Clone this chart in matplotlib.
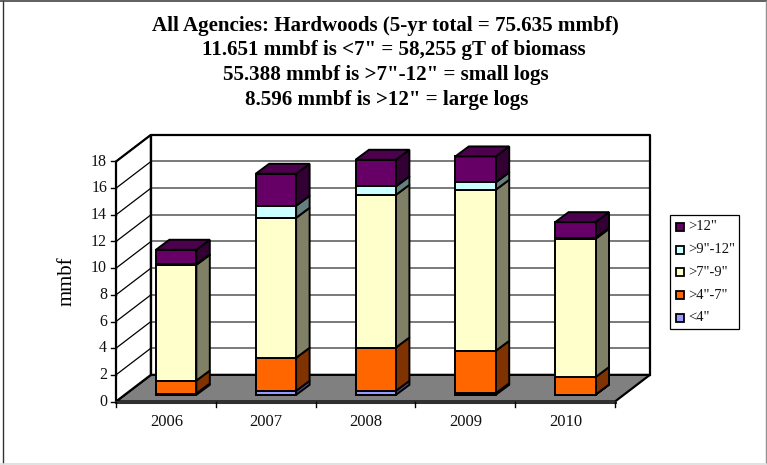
import numpy as np
import matplotlib
matplotlib.use('Agg')
import matplotlib.pyplot as plt
from matplotlib.lines import Line2D
from matplotlib.patches import Polygon, Rectangle

plt.rcParams['font.family'] = ['Liberation Serif', 'DejaVu Serif']

years = ['2006', '2007', '2008', '2009', '2010']
labels = ['<4"', '>4"-7"', '>7"-9"', '>9"-12"', '>12"']
colors = ['#9999ff', '#ff6600', '#ffffcc', '#ccffff', '#660066']
side_colors = ['#4d4d80', '#803300', '#808066', '#668080', '#330033']
top_colors = ['#4d4d80', '#803300', '#808066', '#668080', '#4d004d']

under_4 = [0.10, 0.30, 0.30, 0.12, 0.02]
from_4_to_7 = [0.97, 2.48, 3.25, 3.18, 1.31]
from_7_to_9 = [8.68, 10.50, 11.45, 12.08, 10.37]
from_9_to_12 = [0.05, 0.90, 0.63, 0.55, 0.08]
over_12 = [1.08, 2.40, 2.00, 1.95, 1.17]
series = [under_4, from_4_to_7, from_7_to_9, from_9_to_12, over_12]

title_lines = ['All Agencies: Hardwoods (5-yr total = 75.635 mmbf)',
               '11.651 mmbf is <7" = 58,255 gT of biomass',
               '55.388 mmbf is >7"-12" = small logs',
               '8.596 mmbf is >12" = large logs']
title_x = [385.5, 394, 386, 386.5]
title_y = [26, 50, 75, 99.5]

W, H = 767, 465
fig = plt.figure(figsize=(W / 100, H / 100), dpi=100)


def frame_line(x, y, color, lw):
    fig.add_artist(Line2D([p / W for p in x], [1 - p / H for p in y], color=color, linewidth=lw))


# outer frame, dark on top and left, pale on the other sides
frame_line([3, 3], [1, 463], '#333333', 1.0)
frame_line([0, 767], [1, 1], '#444444', 1.2)
frame_line([766, 766], [1, 463], '#909090', 1.0)
frame_line([0, 767], [463.5, 463.5], '#dddddd', 1.2)

ax = fig.add_axes([116 / W, (H - 401.5) / H, 499 / W, 240 / H])
ax.set_xlim(-0.5, 4.5)
ax.set_ylim(0, 18)
ax.axis('off')

# oblique offsets for the fake 3d, in data units
wall_dx, wall_dy = 0.35, 2.0
bar_dy = 0.5
depth_dx, depth_dy = 0.135, 0.75
bar_w = 0.405


def poly(pts, fc, ec='black', lw=1.4, z=2):
    ax.add_patch(Polygon(pts, closed=True, facecolor=fc, edgecolor=ec, linewidth=lw,
                         zorder=z, clip_on=False, joinstyle='miter'))


x0, x1 = -0.5, 4.5
# floor and walls
poly([(x0, 0), (x1, 0), (x1 + wall_dx, wall_dy), (x0 + wall_dx, wall_dy)], '#808080', lw=1.6, z=1)
poly([(x0, 0), (x0 + wall_dx, wall_dy), (x0 + wall_dx, 18 + wall_dy), (x0, 18)], 'white', lw=1.6, z=1)
ax.plot([x0 + wall_dx, x0 + wall_dx, x1 + wall_dx, x1 + wall_dx],
        [wall_dy, 18 + wall_dy, 18 + wall_dy, wall_dy], color='black', lw=1.6, zorder=1.2,
        clip_on=False)
ax.plot([x0, x1], [0, 0], color='#303030', lw=2.2, zorder=1.3, clip_on=False)

# gridlines on both walls
for v in range(2, 19, 2):
    ax.plot([x0, x0 + wall_dx], [v, v + wall_dy], color='black', lw=0.9, zorder=1.1, clip_on=False)
for v in range(2, 17, 2):
    ax.plot([x0 + wall_dx, x1 + wall_dx], [v + wall_dy, v + wall_dy], color='#555555', lw=1.1,
            zorder=1.1, clip_on=False)

# ticks and tick labels
for v in range(0, 19, 2):
    ax.plot([x0 - 0.05, x0], [v, v], color='black', lw=1.0, clip_on=False)
    ax.text(x0 - 0.09, v, str(v), ha='right', va='center', fontsize=11.5, color='#111111')
for i in range(6):
    ax.plot([x0 + i, x0 + i], [0, -0.4], color='black', lw=1.0, clip_on=False)
for i, y in enumerate(years):
    ax.text(i + 0.005, -1.5, y, ha='center', va='center', fontsize=12, color='#111111')
ax.text(-0.99, 9, 'mmbf', rotation=90, ha='center', va='center', fontsize=15)

# stacked bars
for i in range(len(years)):
    left = i - 0.1
    right = left + bar_w
    base = bar_dy
    for k, vals in enumerate(series):
        top = base + vals[i]
        z = 3 + k
        poly([(right, base), (right + depth_dx, base + depth_dy),
              (right + depth_dx, top + depth_dy), (right, top)], side_colors[k], z=z)
        poly([(left, base), (right, base), (right, top), (left, top)], colors[k], z=z + 0.5)
        if k == len(series) - 1:
            poly([(left, top), (right, top), (right + depth_dx, top + depth_dy),
                  (left + depth_dx, top + depth_dy)], top_colors[k], z=z + 0.5)
        base = top

# title
for line, x, y in zip(title_lines, title_x, title_y):
    fig.text(x / W, 1 - y / H, line, ha='center', va='center', fontsize=15.1, fontweight='bold')

# legend
fig.add_artist(Rectangle((669.5 / W, 1 - 328.5 / H), 69.5 / W, 114 / H, transform=fig.transFigure,
                         facecolor='white', edgecolor='black', linewidth=0.9))
for n, k in enumerate(range(4, -1, -1)):
    cy = 226.8 + n * 22.75
    fig.add_artist(Rectangle((676 / W, 1 - (cy + 4) / H), 8 / W, 8 / H,
                             transform=fig.transFigure, facecolor=colors[k], edgecolor='black',
                             linewidth=1.3))
    fig.text(688 / W, 1 - cy / H, labels[k], ha='left', va='center', fontsize=10.5, color='#111111')

fig.savefig('out.png', dpi=100)
